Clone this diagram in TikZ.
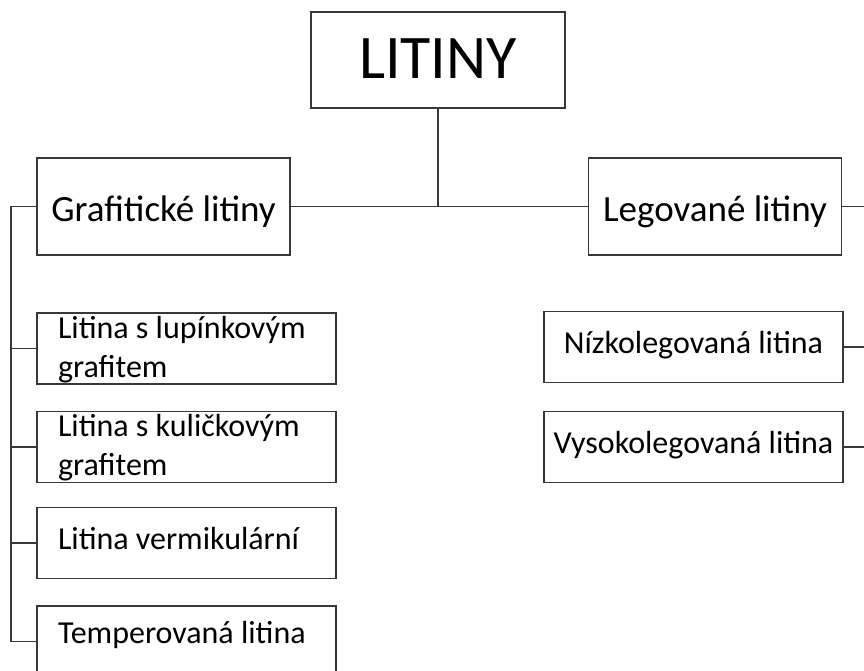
\documentclass[tikz,border=0pt]{standalone}
\usepackage{fontspec}
\setmainfont{Carlito}
\begin{document}
\begin{tikzpicture}[x=1pt,y=-1pt,line width=1.8pt,color=black!78,
        hlavni/.style={draw,text=black,inner sep=0pt,minimum width=254pt,text height=67pt,text depth=29pt,font=\fontsize{62}{75}\selectfont},
        skupina/.style={draw,text=black,inner ysep=0pt,minimum width=253pt,text height=63pt,text depth=34pt,font=\fontsize{37}{45}\selectfont},
        druh/.style={draw,text=black,inner ysep=0pt,inner xsep=21pt,text width=257pt,align=flush left,text height=42pt,text depth=29pt,font=\fontsize{32}{39}\selectfont},
        dvojradek/.style={text height=25pt,text depth=46pt},
        druhvpravo/.style={draw,text=black,inner ysep=0pt,minimum width=299pt,text height=42pt,text depth=29pt,font=\fontsize{32}{39}\selectfont}]
    \useasboundingbox (0,0) rectangle (864,671);
    \clip (0,0) rectangle (864,671);

    \node[hlavni] (litiny) at (438,60) {LITINY};
    \node[skupina] (grafit) at (163.5,206.5) {Grafitické litiny};
    \node[skupina] (legovane) at (715,206.5) {Legované litiny};

    \node[druh,dvojradek] (lupinek) at (186.5,348.5) {Litina s lupínkovým\\grafitem};
    \node[druh,dvojradek] (kulicka) at (186.5,447) {Litina s kuličkovým\\grafitem};
    \node[druh] (vermik) at (186.5,543) {Litina vermikulární};
    \node[druh,text height=37pt,text depth=34pt] (temper) at (186.5,641.5) {Temperovaná litina};

    \node[druhvpravo] (nizko) at (693.5,347) {Nízkolegovaná litina};
    \node[druhvpravo] (vysoko) at (693.5,447) {Vysokolegovaná litina};

    \coordinate (levy) at (11,0);
    \coordinate (pravy) at (869,0);

    \draw (litiny.south) -- (litiny.south |- grafit.east);
    \draw (grafit.east) -- (legovane.west);

    % levá větev
    \draw (grafit.west) -- (levy |- grafit.west) -- (levy |- temper.west) -- (temper.west);
    \draw (levy |- lupinek.west) -- (lupinek.west);
    \draw (levy |- kulicka.west) -- (kulicka.west);
    \draw (levy |- vermik.west) -- (vermik.west);

    % pravá větev
    \draw (legovane.east) -- (pravy |- legovane.east) -- (pravy |- vysoko.east) -- (vysoko.east);
    \draw (nizko.east) -- (pravy |- nizko.east);
\end{tikzpicture}
\end{document}
